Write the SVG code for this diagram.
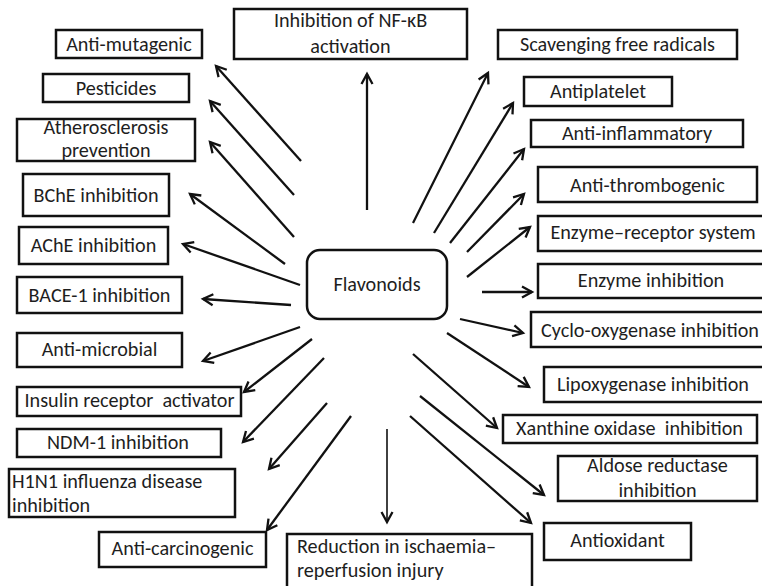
<svg xmlns="http://www.w3.org/2000/svg" width="762" height="586" viewBox="0 0 762 586">
<defs>
<marker id="ah" markerUnits="userSpaceOnUse" markerWidth="14" markerHeight="14" viewBox="0 0 14 14" refX="11" refY="7" orient="auto">
<path d="M1,1.5 L11,7 L1,12.5" fill="none" stroke="#111" stroke-width="2.3" stroke-linejoin="miter"/>
</marker>
<style>
.box{fill:#fff;stroke:#111;stroke-width:2.5}
.t{font-family:Carlito,Lato,"Liberation Sans",sans-serif;font-size:20.2px;fill:#1e1e1e;text-anchor:middle}
.l{text-anchor:start}
.c line{stroke:#111;stroke-width:2.3;marker-end:url(#ah)}
</style>
</defs>
<rect width="762" height="586" fill="#fff"/>
<g class="c" id="connectors">
<line x1="301" y1="161" x2="216" y2="66"/>
<line x1="294" y1="195" x2="210" y2="101"/>
<line x1="294" y1="237" x2="210" y2="142"/>
<line x1="285" y1="264" x2="190" y2="194"/>
<line x1="300" y1="285" x2="183" y2="244"/>
<line x1="291" y1="305" x2="203" y2="299"/>
<line x1="300" y1="327" x2="203" y2="361"/>
<line x1="312" y1="339" x2="244" y2="392"/>
<line x1="324" y1="358" x2="243" y2="442"/>
<line x1="327" y1="403" x2="269" y2="469"/>
<line x1="351" y1="416" x2="267" y2="530"/>
<line x1="387" y1="429" x2="387" y2="522" style="stroke-width:1.6"/>
<line x1="410" y1="416" x2="531" y2="523"/>
<line x1="420" y1="396" x2="544" y2="495"/>
<line x1="413" y1="354" x2="497" y2="428"/>
<line x1="447" y1="333" x2="529" y2="387"/>
<line x1="460" y1="319" x2="523" y2="333"/>
<line x1="482" y1="292" x2="532" y2="292"/>
<line x1="467" y1="277" x2="530" y2="227"/>
<line x1="467" y1="252" x2="524" y2="194"/>
<line x1="450" y1="243" x2="524" y2="149"/>
<line x1="434" y1="233" x2="513" y2="103"/>
<line x1="413" y1="223" x2="488" y2="73"/>
<line x1="367" y1="210" x2="367" y2="74"/>
</g>
<g id="flavonoids"><rect class="box" x="307" y="250" width="140" height="69" rx="13"/><text class="t" x="377" y="291">Flavonoids</text></g>
<g id="n-antimutagenic"><rect class="box" x="56" y="30" width="146" height="28"/><text class="t" x="129" y="51">Anti-mutagenic</text></g>
<g id="n-pesticides"><rect class="box" x="43" y="74" width="146" height="28"/><text class="t" x="116" y="95">Pesticides</text></g>
<g id="n-athero"><rect class="box" x="17" y="119" width="178" height="42"/><text class="t" x="106" y="134">Atherosclerosis</text><text class="t" x="106" y="157">prevention</text></g>
<g id="n-bche"><rect class="box" x="23" y="174" width="146" height="42"/><text class="t" x="96" y="202">BChE inhibition</text></g>
<g id="n-ache"><rect class="box" x="19" y="227" width="149" height="37"/><text class="t" x="93.5" y="252">AChE inhibition</text></g>
<g id="n-bace"><rect class="box" x="17" y="277" width="165" height="36"/><text class="t" x="99.5" y="302">BACE-1 inhibition</text></g>
<g id="n-antimicrobial"><rect class="box" x="17" y="333" width="165" height="34"/><text class="t" x="99.5" y="356">Anti-microbial</text></g>
<g id="n-insulin"><rect class="box" x="17" y="387" width="224" height="29"/><text class="t" x="129.5" y="407" xml:space="preserve">Insulin receptor  activator</text></g>
<g id="n-ndm"><rect class="box" x="17" y="429" width="204" height="28"/><text class="t" x="118" y="449">NDM-1 inhibition</text></g>
<g id="n-h1n1"><rect class="box" x="9" y="469" width="226" height="48"/><text class="t l" x="12" y="488">H1N1 influenza disease</text><text class="t l" x="12" y="512">inhibition</text></g>
<g id="n-anticarc"><rect class="box" x="99" y="532" width="167" height="35"/><text class="t" x="182.5" y="555">Anti-carcinogenic</text></g>
<g id="n-reduction"><rect class="box" x="287" y="534" width="245" height="70"/><text class="t l" x="297" y="553">Reduction in ischaemia–</text><text class="t l" x="297" y="577">reperfusion injury</text></g>
<g id="n-nfkb"><rect class="box" x="234" y="9" width="233" height="50"/><text class="t" x="350.5" y="27">Inhibition of NF-κB</text><text class="t" x="350.5" y="53">activation</text></g>
<g id="n-scavenging"><rect class="box" x="498" y="30" width="239" height="29"/><text class="t" x="617.5" y="51">Scavenging free radicals</text></g>
<g id="n-antiplatelet"><rect class="box" x="524" y="77" width="148" height="29"/><text class="t" x="598" y="98">Antiplatelet</text></g>
<g id="n-antiinflam"><rect class="box" x="531" y="120" width="212" height="27"/><text class="t" x="637" y="140">Anti-inflammatory</text></g>
<g id="n-antithromb"><rect class="box" x="538" y="167" width="219" height="35"/><text class="t" x="647.5" y="192">Anti-thrombogenic</text></g>
<g id="n-enzrec"><rect class="box" x="538" y="216" width="230" height="35"/><text class="t" x="653" y="239">Enzyme–receptor system</text></g>
<g id="n-enzinh"><rect class="box" x="538" y="264" width="230" height="34"/><text class="t" x="651" y="287">Enzyme inhibition</text></g>
<g id="n-cyclo"><rect class="box" x="531" y="312" width="237" height="35"/><text class="t" x="650" y="337">Cyclo-oxygenase inhibition</text></g>
<g id="n-lipox"><rect class="box" x="544" y="367" width="224" height="35"/><text class="t" x="653" y="391">Lipoxygenase inhibition</text></g>
<g id="n-xanthine"><rect class="box" x="503" y="415" width="254" height="28"/><text class="t" x="629.5" y="435" xml:space="preserve">Xanthine oxidase  inhibition</text></g>
<g id="n-aldose"><rect class="box" x="558" y="456" width="199" height="45"/><text class="t" x="657.5" y="472">Aldose reductase</text><text class="t" x="657.5" y="497">inhibition</text></g>
<g id="n-antioxidant"><rect class="box" x="544" y="523" width="147" height="37"/><text class="t" x="617.5" y="547">Antioxidant</text></g>
</svg>
